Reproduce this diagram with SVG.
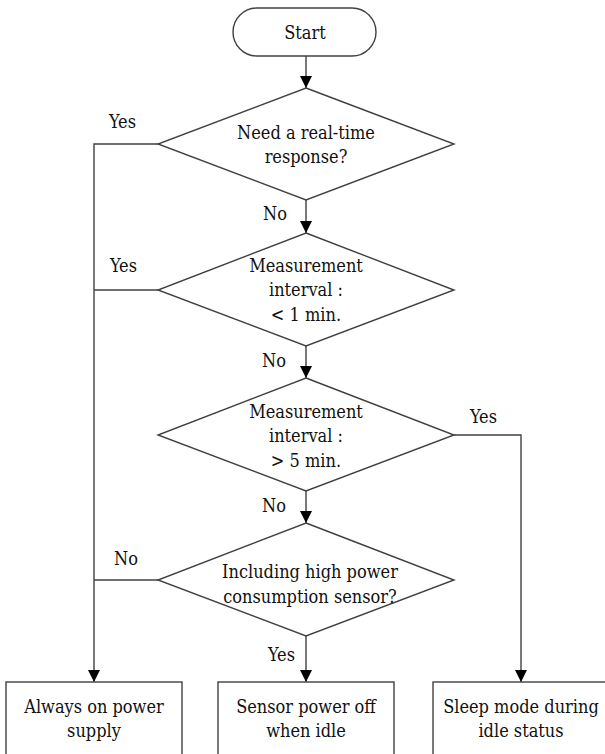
<svg xmlns="http://www.w3.org/2000/svg" width="605" height="754" viewBox="0 0 605 754">
<style>
.s{fill:#fff;stroke:#404040;stroke-width:1.4}
.c{fill:none;stroke:#404040;stroke-width:1.4}
text{font-family:'DejaVu Serif Condensed','DejaVu Serif',serif;font-stretch:condensed;font-size:18px;fill:#111}
.m{text-anchor:middle}
</style>
<defs>
<marker id="ah" markerUnits="userSpaceOnUse" markerWidth="12" markerHeight="12" viewBox="0 0 12 12" refX="12" refY="6" orient="auto">
<path d="M0,0 L12,6 L0,12 z" fill="#000"/>
</marker>
</defs>
<rect width="605" height="754" fill="#fff"/>
<g id="connectors">
<path class="c" d="M306,56 V88" marker-end="url(#ah)"/>
<path class="c" d="M306,200 V233" marker-end="url(#ah)"/>
<path class="c" d="M306,346 V378" marker-end="url(#ah)"/>
<path class="c" d="M306,491 V523" marker-end="url(#ah)"/>
<path class="c" d="M306,636 V682" marker-end="url(#ah)"/>
<path class="c" d="M158,144 H94 V682" marker-end="url(#ah)"/>
<path class="c" d="M158,290 H94"/>
<path class="c" d="M158,580 H94"/>
<path class="c" d="M454,435 H521 V682" marker-end="url(#ah)"/>
<text x="109" y="128">Yes</text>
<text x="263" y="220">No</text>
<text x="110" y="272">Yes</text>
<text x="262" y="367">No</text>
<text x="470" y="423">Yes</text>
<text x="262" y="512">No</text>
<text x="114" y="565">No</text>
<text x="268" y="661">Yes</text>
</g>
<g id="start">
<rect class="s" x="233" y="8" width="143" height="48" rx="24" ry="24"/>
<text class="m" x="305" y="39">Start</text>
</g>
<g id="d1">
<polygon class="s" points="306,88 454,144 306,200 158,144"/>
<text class="m" x="306" y="139">Need a real-time</text>
<text class="m" x="306" y="163">response?</text>
</g>
<g id="d2">
<polygon class="s" points="306,233 454,290 306,346 158,290"/>
<text class="m" x="306" y="272">Measurement</text>
<text class="m" x="306" y="296">interval :</text>
<text class="m" x="306" y="321">&lt; 1 min.</text>
</g>
<g id="d3">
<polygon class="s" points="306,378 454,435 306,491 158,435"/>
<text class="m" x="306" y="418">Measurement</text>
<text class="m" x="306" y="442">interval :</text>
<text class="m" x="306" y="467">&gt; 5 min.</text>
</g>
<g id="d4">
<polygon class="s" points="306,523 454,580 306,636 158,580"/>
<text class="m" x="310" y="578">Including high power</text>
<text class="m" x="310" y="603">consumption sensor?</text>
</g>
<g id="b1">
<rect class="s" x="6" y="682" width="176" height="90"/>
<text class="m" x="94" y="713">Always on power</text>
<text class="m" x="94" y="737">supply</text>
</g>
<g id="b2">
<rect class="s" x="218" y="682" width="176" height="90"/>
<text class="m" x="306" y="713">Sensor power off</text>
<text class="m" x="306" y="737">when idle</text>
</g>
<g id="b3">
<rect class="s" x="433" y="682" width="176" height="90"/>
<text class="m" x="521" y="713">Sleep mode during</text>
<text class="m" x="521" y="737">idle status</text>
</g>
</svg>
